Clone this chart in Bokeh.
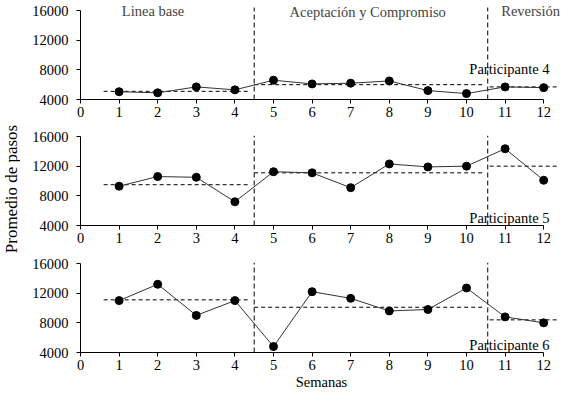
import math
from bokeh.plotting import figure
from bokeh.models import Range1d, FixedTicker, Label
from bokeh.layouts import column, row
from bokeh.embed import file_html
from bokeh.resources import INLINE

# ---------------- data ----------------
weeks = [1, 2, 3, 4, 5, 6, 7, 8, 9, 10, 11, 12]
p4_steps = [5050, 4900, 5700, 5300, 6600, 6100, 6200, 6500, 5200, 4800, 5700, 5600]
p5_steps = [9300, 10600, 10500, 7200, 11250, 11100, 9100, 12300, 11900, 12000, 14350, 10100]
p6_steps = [11000, 13200, 9000, 11000, 4800, 12200, 11300, 9600, 9800, 12700, 8800, 8000]

p4_means = [5100, 6000, 5700]
p5_means = [9500, 11100, 12000]
p6_means = [11100, 10100, 8400]

mean_start = [0.6, 4.5, 10.6]
mean_end = [4.4, 10.45, 12.4]
phase_changes = [4.5, 10.55]

phase_names = ["Linea base", "Aceptación y Compromiso", "Reversión"]
participant_names = ["Participante 4", "Participante 5", "Participante 6"]
x_ticks = [0, 1, 2, 3, 4, 5, 6, 7, 8, 9, 10, 11, 12]
y_ticks = [4000, 8000, 12000, 16000]
x_title = "Semanas"
y_title = "Promedio de pasos"

# ---------------- style ----------------
FONT = "Liberation Serif, Times New Roman, serif"
FS = "14.5px"
PX = 12000 / 89.0          # data units per pixel (y)
UX = 38.6                  # pixels per week (x)
LABEL_W = 20
LEFT = 60
FRAME_W = 562 - LABEL_W - LEFT


def make_panel(vals, means, name, name_y, frame_h, top_px, min_top, min_bottom, vline_top):
    y_top = 16000 + top_px * PX
    y_bot = y_top - frame_h * PX
    p = figure(frame_width=FRAME_W, frame_height=frame_h,
               x_range=Range1d(0, FRAME_W / UX), y_range=Range1d(y_bot, y_top),
               output_backend="svg", toolbar_location=None,
               min_border_left=LEFT, min_border_right=0,
               min_border_top=min_top, min_border_bottom=min_bottom,
               background_fill_color="white", border_fill_color="white")
    p.outline_line_color = None
    p.xgrid.visible = False
    p.ygrid.visible = False

    xa = p.xaxis[0]
    xa.ticker = FixedTicker(ticks=x_ticks)
    xa.bounds = (0, 12)
    ya = p.yaxis[0]
    ya.ticker = FixedTicker(ticks=y_ticks)
    ya.bounds = (4000, 16000)
    for ax in (xa, ya):
        ax.axis_line_color = "black"
        ax.axis_line_width = 1
        ax.major_tick_line_color = "black"
        ax.major_tick_in = 0
        ax.major_tick_out = 4
        ax.minor_tick_line_color = None
        ax.major_label_text_font = FONT
        ax.major_label_text_font_size = FS
        ax.major_label_text_color = "black"
    xa.major_label_standoff = 3
    ya.major_label_standoff = 8

    # phase means
    p.segment(x0=mean_start, y0=means, x1=mean_end, y1=means,
              line_color="black", line_width=1, line_dash="4 3")
    # phase change lines
    p.segment(x0=phase_changes, y0=[4000] * len(phase_changes),
              x1=phase_changes, y1=[vline_top] * len(phase_changes),
              line_color="black", line_width=1, line_dash="5 3")
    # data
    p.line(weeks, vals, line_color="#333333", line_width=1)
    p.scatter(weeks, vals, size=8, color="black")

    p.add_layout(Label(x=12.15, y=name_y, text=name, text_align="right",
                       text_baseline="middle", text_font=FONT,
                       text_font_size=FS, text_color="black"))
    return p


f1 = make_panel(p4_steps, p4_means, participant_names[0], 8150,
                frame_h=99, top_px=10, min_top=0, min_bottom=26, vline_top=16400)
f2 = make_panel(p5_steps, p5_means, participant_names[1], 5000,
                frame_h=92, top_px=3, min_top=8, min_bottom=26, vline_top=16100)
f3 = make_panel(p6_steps, p6_means, participant_names[2], 5000,
                frame_h=93, top_px=4, min_top=8, min_bottom=43, vline_top=16100)

# phase titles
f1.add_layout(Label(x=1.88, y=16000, text=phase_names[0], text_align="center",
                    text_baseline="middle", text_font=FONT, text_font_size=FS))
f1.add_layout(Label(x=7.44, y=15800, text=phase_names[1], text_align="center",
                    text_baseline="middle", text_font=FONT, text_font_size=FS))
f1.add_layout(Label(x=10.9, y=16000, text=phase_names[2], text_align="left",
                    text_baseline="middle", text_font=FONT, text_font_size=FS))

# x title
xa3 = f3.xaxis[0]
xa3.axis_label = x_title
xa3.axis_label_text_font = FONT
xa3.axis_label_text_font_size = FS
xa3.axis_label_text_font_style = "normal"
xa3.axis_label_text_color = "black"
xa3.axis_label_standoff = 1

# y title in its own narrow figure
TOTAL_H = 125 + 126 + 144
lab = figure(width=LABEL_W, height=TOTAL_H, x_range=Range1d(0, LABEL_W), y_range=Range1d(0, TOTAL_H),
             output_backend="svg", toolbar_location=None,
             x_axis_location=None, y_axis_location=None, min_border=0,
             border_fill_color="white", background_fill_color="white")
lab.outline_line_color = None
lab.xgrid.visible = False
lab.ygrid.visible = False
lab.add_layout(Label(x=10.5, y=TOTAL_H - 188.5, text=y_title, angle=math.pi / 2,
                     text_align="center", text_baseline="middle",
                     text_font=FONT, text_font_size="17px", text_color="black"))

layout = row(lab, column(f1, f2, f3))

with open("out.html", "w") as fh:
    fh.write(file_html(layout, INLINE))
